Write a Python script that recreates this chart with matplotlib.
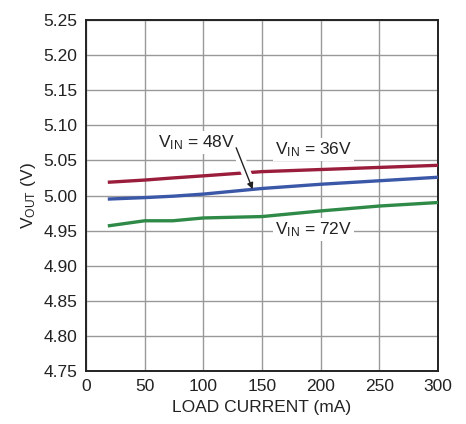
import matplotlib
matplotlib.use("Agg")
import matplotlib.pyplot as plt

plt.rcParams['font.family'] = ['Liberation Sans Narrow', 'Liberation Sans', 'DejaVu Sans']
plt.rcParams['mathtext.fontset'] = 'custom'
plt.rcParams['mathtext.rm'] = 'Liberation Sans'
plt.rcParams['mathtext.it'] = 'Liberation Sans'

# 데이터
load_ma = [20, 50, 74, 100, 150, 200, 250, 300]
vout_36 = [5.019, 5.022, 5.025, 5.028, 5.034, 5.037, 5.040, 5.043]
vout_48 = [4.995, 4.997, 4.999, 5.002, 5.010, 5.016, 5.021, 5.026]
vout_72 = [4.957, 4.964, 4.964, 4.968, 4.970, 4.978, 4.985, 4.990]

x_ticks = [0, 50, 100, 150, 200, 250, 300]
y_ticks = [4.75, 4.80, 4.85, 4.90, 4.95, 5.00, 5.05, 5.10, 5.15, 5.20, 5.25]

fig = plt.figure(figsize=(4.66, 4.24), dpi=100)
ax = fig.add_axes([86 / 466, 1 - 371 / 424, 352 / 466, 351 / 424])

ax.plot(load_ma, vout_36, color='#9b1d3c', lw=2.4, zorder=3)
ax.plot(load_ma, vout_48, color='#3b58a8', lw=2.4, zorder=3)
ax.plot(load_ma, vout_72, color='#2f8a48', lw=2.4, zorder=3)

ax.set_xlim(0, 300)
ax.set_ylim(4.75, 5.25)
ax.set_xticks(x_ticks)
ax.set_yticks(y_ticks)
ax.set_yticklabels([f"{v:.2f}" for v in y_ticks])
ax.tick_params(length=0, labelsize=12.5, pad=6, colors='#222222')
ax.grid(True, color='#999999', lw=1)
for s in ax.spines.values():
    s.set_linewidth(1.4)
    s.set_color('#222222')

ax.set_xlabel("LOAD CURRENT (mA)", fontsize=12.5, labelpad=4, color='#222222')
ax.set_ylabel(r"V$_{\mathrm{OUT}}$ (V)", fontsize=12.5, labelpad=4, color='#222222')

box = dict(facecolor='white', edgecolor='none', pad=1.5)
ax.text(94, 5.075, r"V$_{\mathrm{IN}}$ = 48V", fontsize=12.5, ha='center', va='center',
        bbox=box, zorder=4, color='#222222')
ax.text(194, 5.065, r"V$_{\mathrm{IN}}$ = 36V", fontsize=12.5, ha='center', va='center',
        bbox=box, zorder=4, color='#222222')
ax.text(194, 4.951, r"V$_{\mathrm{IN}}$ = 72V", fontsize=12.5, ha='center', va='center',
        bbox=box, zorder=4, color='#222222')

# 화살표가 빨간 선을 끊는 부분 (흰색 바탕)
ax.annotate("", xy=(139, 5.022), xytext=(131, 5.055),
            arrowprops=dict(arrowstyle='-', color='white', lw=7,
                            shrinkA=0, shrinkB=0), zorder=4)
ax.annotate("", xy=(142, 5.009), xytext=(128, 5.068),
            arrowprops=dict(arrowstyle='-|>', color='#222222', lw=1,
                            mutation_scale=9, shrinkA=0, shrinkB=0), zorder=5)

fig.savefig("out.png", dpi=100)
